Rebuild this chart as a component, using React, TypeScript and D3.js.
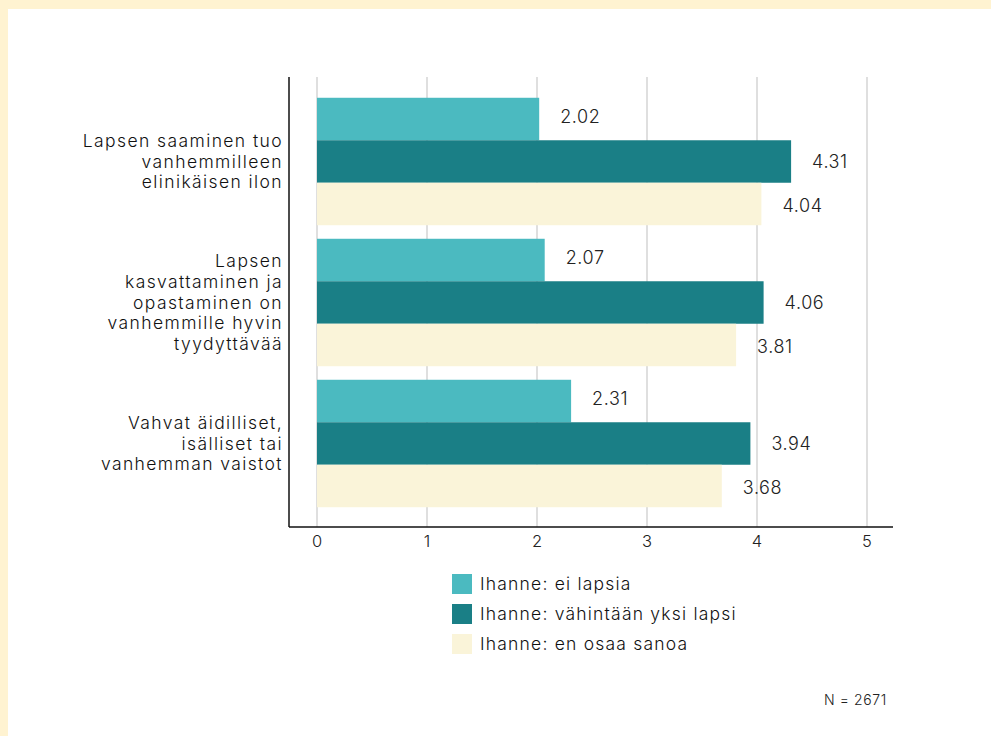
import React, { useEffect, useRef } from 'react';
import * as d3 from 'd3';

const categories = [
  ['Lapsen saaminen tuo', 'vanhemmilleen', 'elinikäisen ilon'],
  ['Lapsen', 'kasvattaminen ja', 'opastaminen on', 'vanhemmille hyvin', 'tyydyttävää'],
  ['Vahvat äidilliset,', 'isälliset tai', 'vanhemman vaistot'],
];
const seriesNames = ['Ihanne: ei lapsia', 'Ihanne: vähintään yksi lapsi', 'Ihanne: en osaa sanoa'];
const seriesColors = ['#4bbac0', '#1a7f86', '#faf4d9'];
const values = [
  [2.02, 4.31, 4.04],
  [2.07, 4.06, 3.81],
  [2.31, 3.94, 3.68],
];
const xTicks = [0, 1, 2, 3, 4, 5];
const note = 'N = 2671';

const W = 991;
const H = 736;
const FONT = 'Inter, "Noto Sans", sans-serif';

const App: React.FC = () => {
  const svgRef = useRef<SVGSVGElement>(null);

  useEffect(() => {
    if (!svgRef.current) return;
    const svg = d3.select(svgRef.current);
    svg.selectAll('*').remove();

    // frame
    svg.append('rect').attr('width', W).attr('height', H).attr('fill', '#fff3d1');
    svg.append('rect').attr('x', 8).attr('y', 9).attr('width', W).attr('height', H).attr('fill', '#ffffff');

    const x = d3.scaleLinear().domain([0, 5]).range([317, 867]);
    const idx = categories.map((_, i) => String(i));
    const y0 = d3.scaleBand().domain(idx).range([91, 514]).paddingInner(0.096).paddingOuter(0.048);
    const y1 = d3.scaleBand().domain(['0', '1', '2']).range([0, y0.bandwidth()]);

    const axisLeft = 289;
    const axisRight = 893;
    const top = 77;
    const bottom = 527;

    // grid
    svg.append('g')
      .selectAll('line')
      .data(xTicks)
      .enter()
      .append('line')
      .attr('x1', d => x(d))
      .attr('x2', d => x(d))
      .attr('y1', top)
      .attr('y2', bottom)
      .attr('stroke', '#d4d4d4')
      .attr('stroke-width', 1.5);

    // bars
    const groups = svg.append('g')
      .selectAll('g')
      .data(values)
      .enter()
      .append('g')
      .attr('transform', (_, i) => `translate(0, ${y0(String(i))})`);

    groups.selectAll('rect')
      .data(d => d)
      .enter()
      .append('rect')
      .attr('x', x(0))
      .attr('y', (_, j) => y1(String(j))!)
      .attr('width', d => x(d) - x(0))
      .attr('height', y1.bandwidth())
      .attr('fill', (_, j) => seriesColors[j]);

    groups.selectAll('text')
      .data(d => d)
      .enter()
      .append('text')
      .attr('x', d => x(d) + 21)
      .attr('y', (_, j) => y1(String(j))! + y1.bandwidth() / 2 + (j - 1) * 2)
      .attr('dy', '0.35em')
      .attr('font-family', FONT)
      .attr('font-size', 18)
      .attr('font-weight', 300)
      .attr('letter-spacing', 0.6)
      .attr('fill', '#222')
      .text(d => d.toFixed(2));

    // axes
    svg.append('line')
      .attr('x1', axisLeft).attr('x2', axisLeft)
      .attr('y1', top).attr('y2', bottom)
      .attr('stroke', '#111').attr('stroke-width', 1.5);
    svg.append('line')
      .attr('x1', axisLeft).attr('x2', axisRight)
      .attr('y1', bottom).attr('y2', bottom)
      .attr('stroke', '#111').attr('stroke-width', 1.5);

    svg.append('g')
      .selectAll('text')
      .data(xTicks)
      .enter()
      .append('text')
      .attr('x', d => x(d))
      .attr('y', 541)
      .attr('dy', '0.35em')
      .attr('text-anchor', 'middle')
      .attr('font-family', FONT)
      .attr('font-size', 16.5)
      .attr('font-weight', 300)
      .attr('fill', '#222')
      .text(d => String(d));

    // category labels
    const lineH = 20.8;
    const cat = svg.append('g')
      .selectAll('text')
      .data(categories)
      .enter()
      .append('text')
      .attr('text-anchor', 'end')
      .attr('font-family', FONT)
      .attr('font-size', 17.5)
      .attr('font-weight', 300)
      .attr('letter-spacing', 1.4)
      .attr('fill', '#111');
    cat.each(function (lines, i) {
      const cy = y0(String(i))! + y0.bandwidth() / 2;
      const start = cy - ((lines.length - 1) * lineH) / 2;
      d3.select(this)
        .selectAll('tspan')
        .data(lines)
        .enter()
        .append('tspan')
        .attr('x', 283)
        .attr('y', (_, k) => start + k * lineH)
        .attr('dy', '0.35em')
        .text(t => t);
    });

    // legend
    const leg = svg.append('g')
      .selectAll('g')
      .data(seriesNames)
      .enter()
      .append('g')
      .attr('transform', (_, i) => `translate(452, ${584 + i * 30})`);
    leg.append('rect')
      .attr('x', 0).attr('y', -10)
      .attr('width', 20).attr('height', 20)
      .attr('fill', (_, i) => seriesColors[i]);
    leg.append('text')
      .attr('x', 28)
      .attr('dy', '0.35em')
      .attr('font-family', FONT)
      .attr('font-size', 17.5)
      .attr('font-weight', 300)
      .attr('letter-spacing', 1.2)
      .attr('fill', '#111')
      .text(d => d);

    svg.append('text')
      .attr('x', 824)
      .attr('y', 700)
      .attr('dy', '0.35em')
      .attr('font-family', FONT)
      .attr('font-size', 14)
      .attr('font-weight', 300)
      .attr('letter-spacing', 0.6)
      .attr('fill', '#222')
      .text(note);
  }, []);

  return (
    <div style={{ position: 'absolute', left: 0, top: 0 }}>
      <style>{`body { margin: 0; }`}</style>
      <svg ref={svgRef} width={W} height={H} style={{ display: 'block' }} />
    </div>
  );
};

export default App;
